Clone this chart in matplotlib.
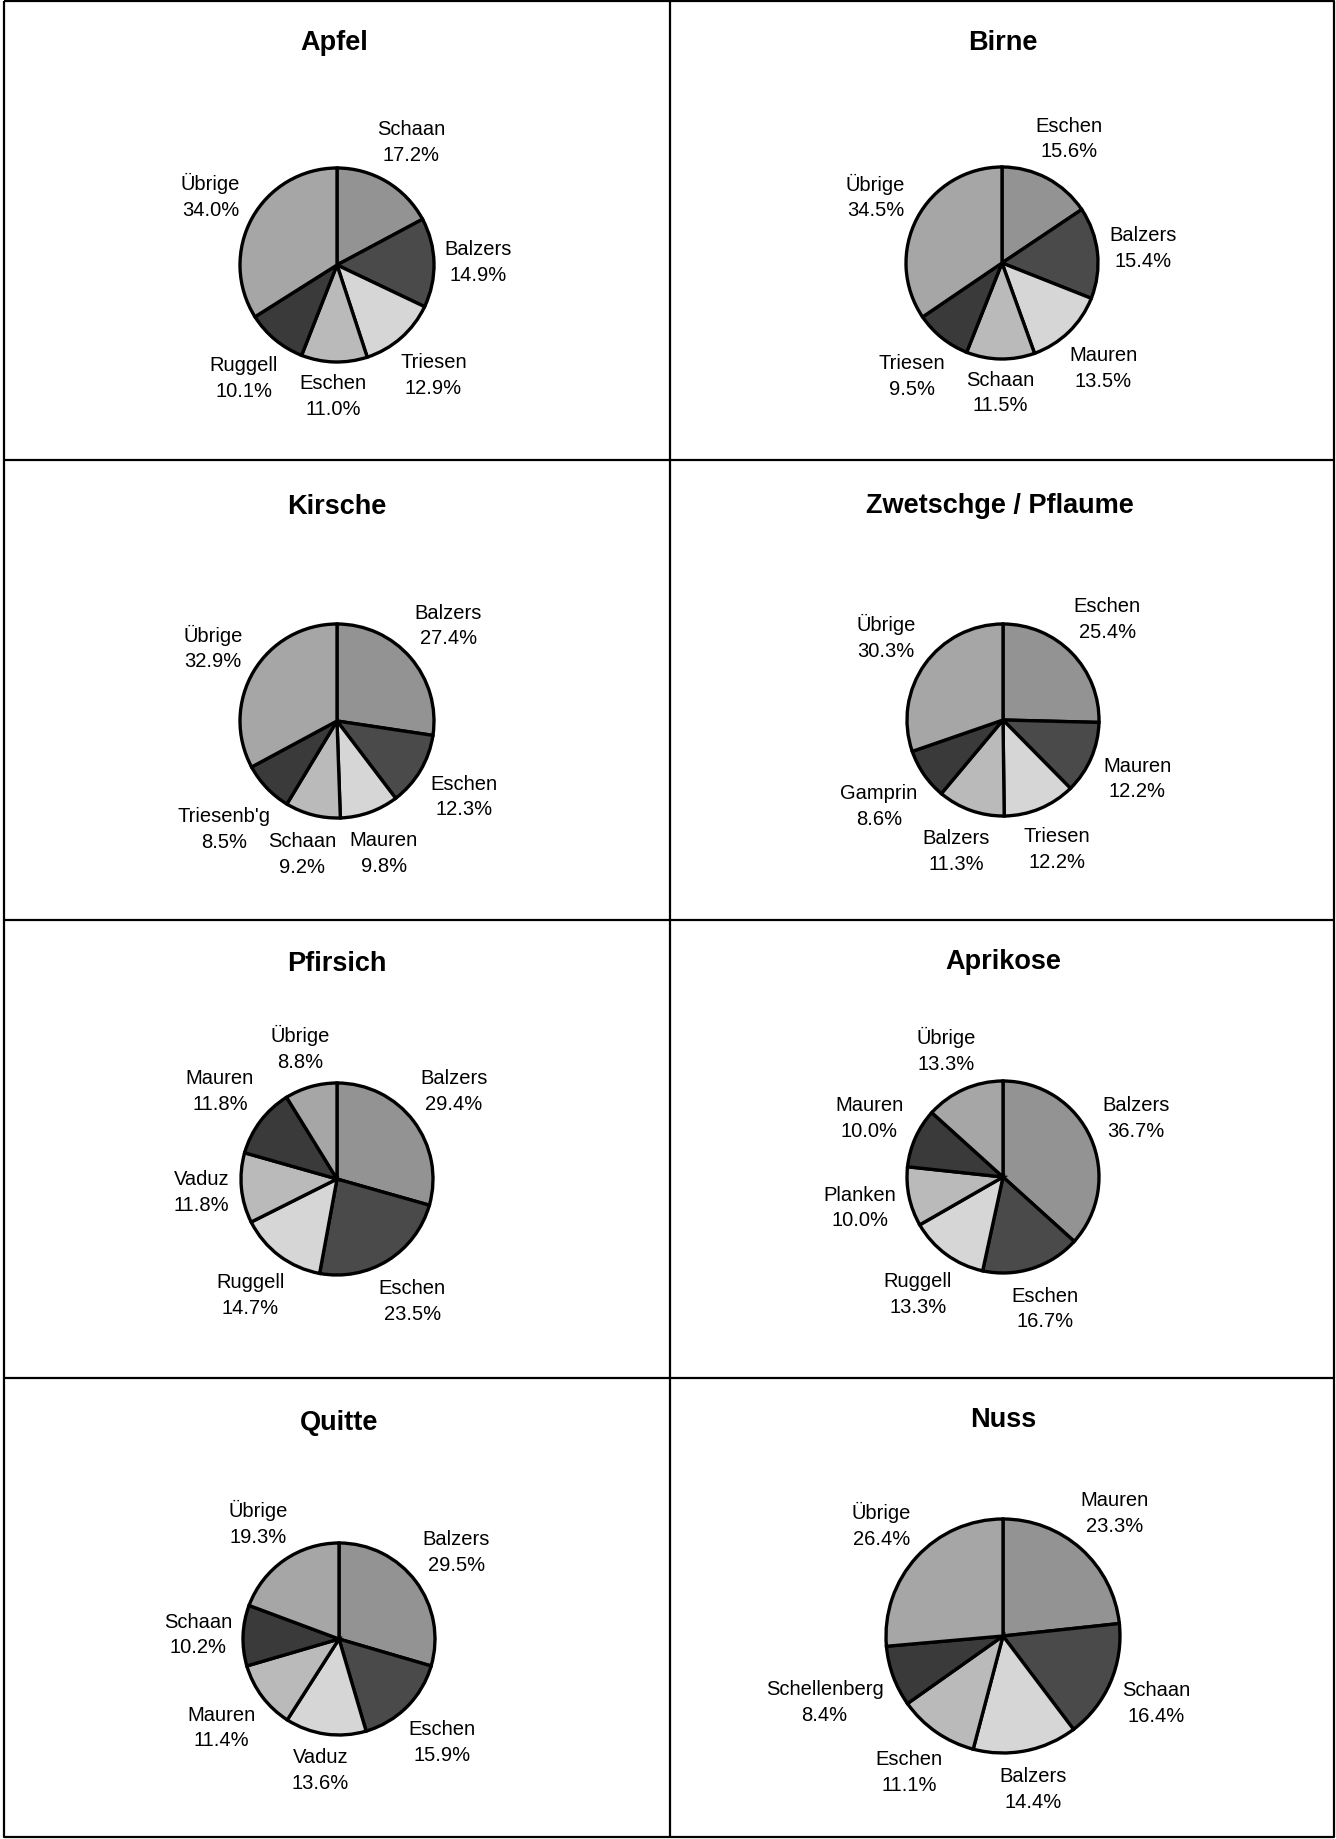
import numpy as np
import matplotlib.pyplot as plt

plt.rcParams['font.family'] = ['Liberation Sans', 'DejaVu Sans']

# data
titles = ["Apfel", "Birne", "Kirsche", "Zwetschge / Pflaume",
          "Pfirsich", "Aprikose", "Quitte", "Nuss"]

apfel_labels = ["Schaan", "Balzers", "Triesen", "Eschen", "Ruggell", "Übrige"]
apfel_values = [17.2, 14.9, 12.9, 11.0, 10.1, 34.0]

birne_labels = ["Eschen", "Balzers", "Mauren", "Schaan", "Triesen", "Übrige"]
birne_values = [15.6, 15.4, 13.5, 11.5, 9.5, 34.5]

kirsche_labels = ["Balzers", "Eschen", "Mauren", "Schaan", "Triesenb'g", "Übrige"]
kirsche_values = [27.4, 12.3, 9.8, 9.2, 8.5, 32.9]

zwetschge_labels = ["Eschen", "Mauren", "Triesen", "Balzers", "Gamprin", "Übrige"]
zwetschge_values = [25.4, 12.2, 12.2, 11.3, 8.6, 30.3]

pfirsich_labels = ["Balzers", "Eschen", "Ruggell", "Vaduz", "Mauren", "Übrige"]
pfirsich_values = [29.4, 23.5, 14.7, 11.8, 11.8, 8.8]

aprikose_labels = ["Balzers", "Eschen", "Ruggell", "Planken", "Mauren", "Übrige"]
aprikose_values = [36.7, 16.7, 13.3, 10.0, 10.0, 13.3]

quitte_labels = ["Balzers", "Eschen", "Vaduz", "Mauren", "Schaan", "Übrige"]
quitte_values = [29.5, 15.9, 13.6, 11.4, 10.2, 19.3]

nuss_labels = ["Mauren", "Schaan", "Balzers", "Eschen", "Schellenberg", "Übrige"]
nuss_values = [23.3, 16.4, 14.4, 11.1, 8.4, 26.4]

all_labels = [apfel_labels, birne_labels, kirsche_labels, zwetschge_labels,
              pfirsich_labels, aprikose_labels, quitte_labels, nuss_labels]
all_values = [apfel_values, birne_values, kirsche_values, zwetschge_values,
              pfirsich_values, aprikose_values, quitte_values, nuss_values]

# layout in pixels (top-left origin)
W, H = 1336, 1840
centers = [(337, 266), (1002, 264), (337, 722), (1003, 721),
           (337, 1180), (1003, 1178), (339, 1640), (1003, 1637)]
radii = [97, 96, 97, 96, 96, 96, 96, 117]
title_y = [43, 43, 507, 506, 964, 962, 1423, 1420]
title_x = [334, 1003, 337, 1000, 337, 1003, 339, 1003]

shades = ['#939393', '#4a4a4a', '#d6d6d6', '#bababa', '#3a3a3a', '#a6a6a6']

fig = plt.figure(figsize=(W / 100, H / 100), dpi=100)
ax = fig.add_axes([0, 0, 1, 1])
ax.set_xlim(0, W)
ax.set_ylim(0, H)
ax.set_aspect('equal')
ax.axis('off')

renderer = fig.canvas.get_renderer()
gap = 10

for i in range(8):
    cx, cy = centers[i]
    cy = H - cy
    r = radii[i]
    vals = all_values[i]
    ax.pie(vals, center=(cx, cy), radius=r, startangle=90, counterclock=False,
           colors=shades, frame=True,
           wedgeprops=dict(edgecolor='black', linewidth=2.4))
    ax.text(title_x[i], H - title_y[i], titles[i], ha='center', va='center',
            fontsize=19.5, fontweight='bold')

    total = sum(vals)
    cum = 0
    for lab, v in zip(all_labels[i], vals):
        theta = np.deg2rad(90 - 360 * (cum + v / 2) / total)
        cum += v
        ux, uy = np.cos(theta), np.sin(theta)
        t = ax.text(cx, cy, f"{lab}\n{v:.1f}%", ha='center', va='center',
                    fontsize=14.5, linespacing=1.45)
        bb = t.get_window_extent(renderer=renderer)
        w, h = bb.width / 2, bb.height / 2
        d = r + gap + abs(ux) * w + abs(uy) * h
        t.set_position((cx + d * ux, cy + d * uy))

ax.set_xlim(0, W)
ax.set_ylim(0, H)

# frame and cell separators
lk = dict(color='black', linewidth=1.6, solid_capstyle='butt')
ax.plot([4, W - 2, W - 2, 4, 4], [H - 2, H - 2, 2, 2, H - 2], **lk)
ax.plot([670, 670], [2, H - 2], **lk)
for yy in [461, 921, 1379]:
    ax.plot([4, W - 2], [H - yy, H - yy], **lk)

fig.savefig('out.png', dpi=100, facecolor='white')
